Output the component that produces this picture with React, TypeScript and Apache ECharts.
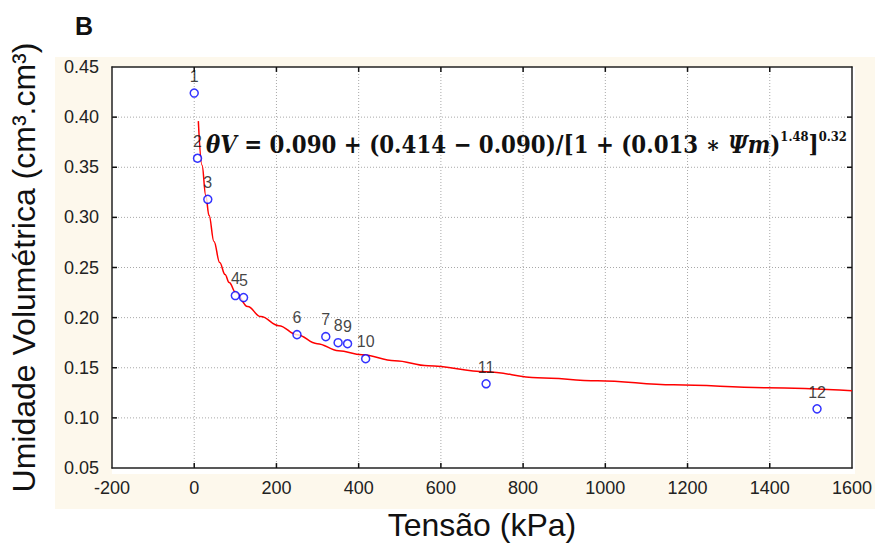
import React, { useEffect, useRef } from "react";
import * as echarts from "echarts";

// Measured points (Tensão kPa, Umidade volumétrica cm³.cm³)
const pointIds = ["1", "2", "3", "4", "5", "6", "7", "8", "9", "10", "11", "12"];
const tensionKPa = [0, 8, 33, 100, 120, 250, 320, 350, 373, 417, 710, 1515];
const moisture = [0.424, 0.359, 0.318, 0.222, 0.22, 0.183, 0.181, 0.175, 0.174, 0.159, 0.134, 0.109];

// Fitted curve
const fitTension = [10, 19, 28, 36, 48, 62, 75, 85, 101, 130, 162, 206, 250, 299, 351, 408, 488, 569, 710, 835, 981, 1166, 1392, 1600];
const fitMoisture = [0.396, 0.352, 0.322, 0.302, 0.276, 0.255, 0.243, 0.235, 0.225, 0.211, 0.201, 0.192, 0.183, 0.174, 0.167, 0.163, 0.157, 0.152, 0.146, 0.14, 0.137, 0.133, 0.13, 0.127];

// Axis ticks
const xTickValues = [-200, 0, 200, 400, 600, 800, 1000, 1200, 1400, 1600];
const yTickValues = [0.05, 0.1, 0.15, 0.2, 0.25, 0.3, 0.35, 0.4, 0.45];
const xMin = -200;
const xMax = 1600;
const xStep = 200;
const yMin = 0.05;
const yMax = 0.45;
const yStep = 0.05;

const xTitle = "Tensão (kPa)";
const yTitle = "Umidade Volumétrica (cm³.cm³)";
const panelLetter = "B";
const equation = "{i|θV} = 0.090 + (0.414 − 0.090)/[1 + (0.013 ∗ {i|Ψm}){s|1.48}]{s|0.32}";

const sans = "Liberation Sans, Arial, sans-serif";
const serif = "DejaVu Serif, serif";

// tick length expressed in axis units (about 5 px)
const xTickLen = ((xMax - xMin) * 5) / 743;
const yTickLen = ((yMax - yMin) * 5) / 407;

const mkLine = () => ({ show: true, onZero: false, lineStyle: { color: "#222", width: 1.5 } });

const segment = (pts: number[][], color: string, width: number, type: any, z: number) => ({
  type: "line",
  xAxisIndex: 0,
  yAxisIndex: 0,
  data: pts,
  symbol: "none",
  silent: true,
  clip: false,
  lineStyle: { color, width, type },
  z,
});

export default function App() {
  const ref = useRef<HTMLDivElement>(null);
  useEffect(() => {
    if (!ref.current) return;
    const chart = echarts.init(ref.current, null, { renderer: "svg" });
    const gridSeries: any[] = [];
    xTickValues.slice(1, -1).forEach((v) => {
      gridSeries.push(segment([[v, yMin], [v, yMax]], "#a8a8a8", 1, [1, 2], 1));
    });
    yTickValues.slice(1, -1).forEach((v) => {
      gridSeries.push(segment([[xMin, v], [xMax, v]], "#a8a8a8", 1, [1, 2], 1));
    });
    xTickValues.slice(1, -1).forEach((v) => {
      gridSeries.push(segment([[v, yMin], [v, yMin + yTickLen]], "#111", 1.5, "solid", 1));
      gridSeries.push(segment([[v, yMax], [v, yMax - yTickLen]], "#111", 1.5, "solid", 1));
    });
    yTickValues.slice(1, -1).forEach((v) => {
      gridSeries.push(segment([[xMin, v], [xMin + xTickLen, v]], "#111", 1.5, "solid", 1));
      gridSeries.push(segment([[xMax, v], [xMax - xTickLen, v]], "#111", 1.5, "solid", 1));
    });
    chart.setOption({
      animation: false,
      backgroundColor: "transparent",
      graphic: [
        {
          type: "text",
          x: 84,
          y: 26,
          style: {
            text: panelLetter,
            font: "bold 25px " + sans,
            fill: "#111",
            align: "center",
            verticalAlign: "middle",
          },
        },
        {
          type: "text",
          x: 206,
          y: 145,
          scaleX: 0.89,
          z: 10,
          style: {
            text: equation,
            font: "bold 24px " + serif,
            fill: "#111",
            align: "left",
            verticalAlign: "middle",
            rich: {
              i: { fontFamily: serif, fontSize: 24, fontWeight: "bold", fontStyle: "italic", fill: "#111" },
              s: { fontFamily: serif, fontSize: 13, fontWeight: "bold", fill: "#111", verticalAlign: "top", lineHeight: 30 },
            },
          },
        },
      ],
      grid: { left: 112, right: 20, top: 67, bottom: 72, show: false },
      xAxis: [
        {
          type: "value",
          min: xMin,
          max: xMax,
          interval: xStep,
          position: "bottom",
          axisLine: mkLine(),
          axisTick: { show: false },
          splitLine: { show: false },
          axisLabel: { color: "#222", fontSize: 18, fontFamily: sans, margin: 11, formatter: (v: number) => String(v) },
          name: xTitle,
          nameLocation: "middle",
          nameGap: 41,
          nameTextStyle: { color: "#111", fontSize: 32, fontFamily: sans },
        },
        {
          type: "value",
          min: xMin,
          max: xMax,
          interval: xStep,
          position: "top",
          axisLine: mkLine(),
          axisTick: { show: false },
          splitLine: { show: false },
          axisLabel: { show: false },
        },
      ],
      yAxis: [
        {
          type: "value",
          min: yMin,
          max: yMax,
          interval: yStep,
          position: "left",
          axisLine: mkLine(),
          axisTick: { show: false },
          splitLine: { show: false },
          axisLabel: {
            color: "#222",
            fontSize: 18,
            fontFamily: sans,
            margin: 13,
            formatter: (v: number) => v.toFixed(2),
          },
          name: yTitle,
          nameLocation: "middle",
          nameGap: 72,
          nameRotate: 90,
          nameTextStyle: { color: "#111", fontSize: 32, fontFamily: sans },
        },
        {
          type: "value",
          min: yMin,
          max: yMax,
          interval: yStep,
          position: "right",
          axisLine: mkLine(),
          axisTick: { show: false },
          splitLine: { show: false },
          axisLabel: { show: false },
        },
      ],
      series: [
        ...gridSeries,
        {
          type: "line",
          xAxisIndex: 0,
          yAxisIndex: 0,
          data: fitTension.map((x, i) => [x, fitMoisture[i]]),
          symbol: "none",
          smooth: 0.4,
          smoothMonotone: "x",
          lineStyle: { color: "#ff0000", width: 1.5 },
          z: 2,
        },
        {
          type: "scatter",
          xAxisIndex: 0,
          yAxisIndex: 0,
          data: tensionKPa.map((x, i) => ({ value: [x, moisture[i]], name: pointIds[i] })),
          symbol: "circle",
          symbolSize: 8,
          itemStyle: { color: "#ffffff", borderColor: "#0000ff", borderWidth: 1.5 },
          label: {
            show: true,
            position: "top",
            distance: 4,
            formatter: (p: any) => p.name,
            color: "#111",
            fontSize: 16,
            fontFamily: sans,
          },
          z: 3,
        },
      ],
    });
    return () => chart.dispose();
  }, []);
  return (
    <div style={{ position: "fixed", left: 0, top: 0, width: 875, height: 546, background: "#ffffff" }}>
      <div style={{ position: "absolute", left: 55, top: 57, width: 820, height: 452, background: "#fdf8ec" }} />
      <div style={{ position: "absolute", left: 112, top: 67, width: 743, height: 407, background: "#ffffff" }} />
      <div ref={ref} style={{ position: "absolute", left: 0, top: 0, width: 875, height: 546 }} />
    </div>
  );
}
